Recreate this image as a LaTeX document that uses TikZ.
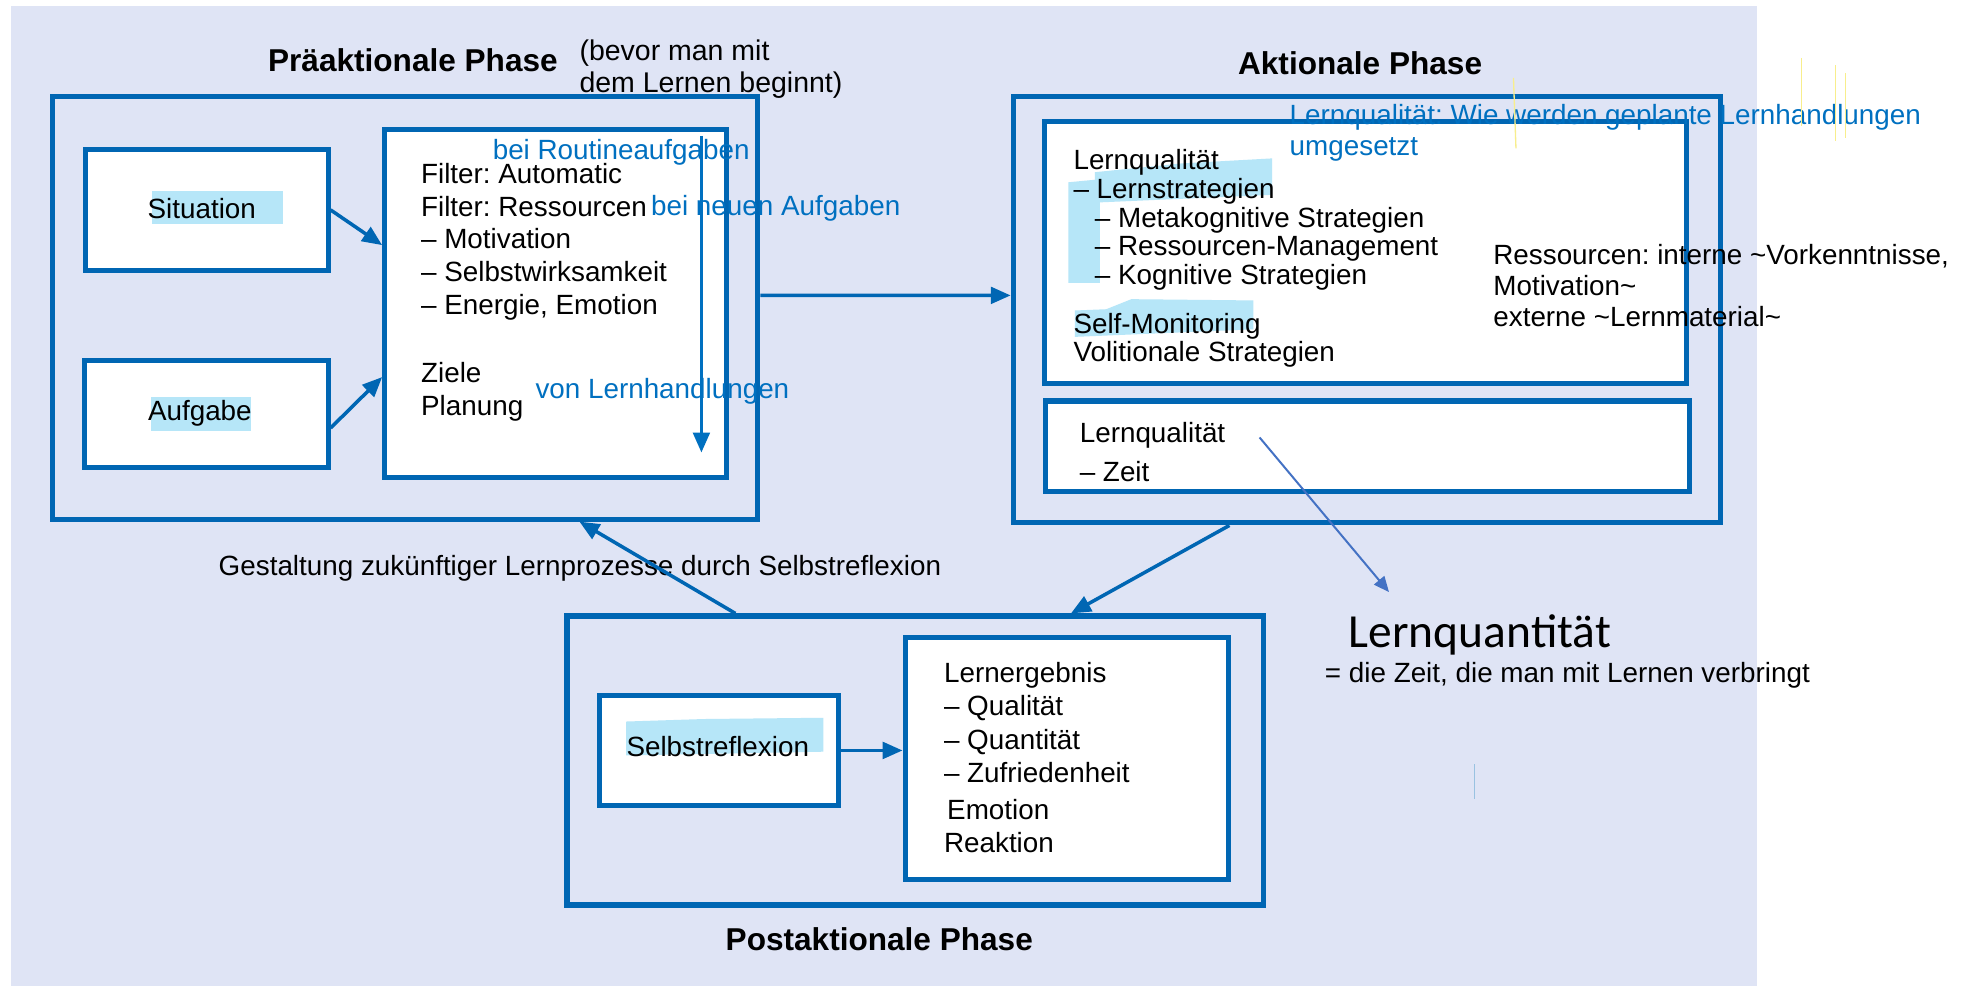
\documentclass[tikz,border=0pt]{standalone}
\usepackage{fontspec}
\setmainfont{Liberation Sans}
\newfontfamily\quantfont{Carlito}
\usetikzlibrary{arrows.meta,positioning}
\definecolor{phaseblue}{RGB}{0,102,179}
\definecolor{noteblue}{RGB}{0,112,192}
\definecolor{thinblue}{RGB}{68,114,196}
\definecolor{panel}{RGB}{223,228,245}
\definecolor{marker}{RGB}{182,230,248}
\definecolor{scribble}{RGB}{248,238,140}
\frenchspacing
\begin{document}
\begin{tikzpicture}[x=0.02cm, y=-0.02cm, line width=2.3pt, >={Triangle[length=9pt,width=7.5pt]},
  phasebox/.style={draw=phaseblue, fill=panel, inner sep=0pt},
  innerbox/.style={draw=phaseblue, fill=white, inner sep=0pt},
  phasetitle/.style={font=\bfseries\fontsize{14.3}{17}\selectfont, inner sep=0pt},
  body/.style={font=\fontsize{12.6}{14.8}\selectfont, align=left, inner sep=0pt, anchor=north west},
  note/.style={body, text=noteblue},
  flow/.style={->, draw=phaseblue, line width=1.6pt},
  hl/.style={fill=marker, draw=none}]
  \useasboundingbox (0,0) rectangle (1568,784);
  \fill[panel] (9,5) rectangle (1398,784);

  % boxes
  \node[phasebox, minimum width=11.22cm, minimum height=6.72cm] (prae) at (322.5,245) {};
  \node[innerbox, minimum width=3.86cm, minimum height=1.92cm] (situation) at (164.5,167) {};
  \node[innerbox, minimum width=3.88cm, minimum height=1.70cm] (aufgabe) at (164,329.5) {};
  \node[innerbox, minimum width=5.44cm, minimum height=5.54cm] (filter) at (442,241.5) {};
  \node[phasebox, minimum width=11.26cm, minimum height=6.78cm] (akt) at (1087.5,246.5) {};
  \node[innerbox, minimum width=10.22cm, minimum height=4.16cm] (lernq) at (1086.5,201) {};
  \node[innerbox, minimum width=10.24cm, minimum height=1.44cm] (zeitbox) at (1088,355) {};
  \node[phasebox, minimum width=11.08cm, minimum height=4.60cm] (post) at (728,605) {};
  \node[innerbox, minimum width=3.80cm, minimum height=1.76cm] (reflexion) at (572,597) {};
  \node[innerbox, minimum width=5.14cm, minimum height=3.86cm] (ergebnis) at (848.5,603.5) {};

  % marker
  \fill[hl] (121,152) rectangle (225,178);
  \fill[hl] (120,316) rectangle (200,343);
  \fill[hl] (498,574) -- (560,572) -- (655,571) -- (655,598) -- (498,601) -- cycle;
  \fill[hl] (871,137) -- (940,130) -- (1012,126) -- (1012,155) -- (875,161) -- (875,225) -- (850,225) -- (850,145) -- (871,143) -- cycle;
  \fill[hl] (855,247) -- (880,246) -- (900,238) -- (997,239) -- (997,262) -- (855,268) -- cycle;

  % titles
  \node[phasetitle] (praetitle) at (328.5,48) {Präaktionale Phase};
  \node[body, font=\fontsize{12.9}{14.2}\selectfont] (praenote) at (459,30) {(bevor man mit\\dem Lernen beginnt)};
  \node[phasetitle] (akttitle) at (1082,50) {Aktionale Phase};
  \node[phasetitle] (posttitle) at (699.5,747) {Postaktionale Phase};

  % box texts
  \node[body, anchor=center] (situationtxt) at (160.5,166) {Situation};
  \node[body, anchor=center] (aufgabetxt) at (159,329) {Aufgabe};
  \node[body] (filtertxt) at (333,128) {Filter: Automatic\\Filter: Ressourcen\\– Motivation\\– Selbstwirksamkeit\\– Energie, Emotion\\[16pt]Ziele\\Planung};
  \node[body, font=\fontsize{12.6}{13}\selectfont] (lernqtxt) at (852,117) {Lernqualität\\– Lernstrategien\\\hspace*{0.34cm}– Metakognitive Strategien\\\hspace*{0.34cm}– Ressourcen-Management\\\hspace*{0.34cm}– Kognitive Strategien\\[9pt]Self-Monitoring\\Volitionale Strategien};
  \node[body, font=\fontsize{12.6}{17.6}\selectfont] (zeittxt) at (857,334) {Lernqualität\\– Zeit};
  \node[body, anchor=center] (reflexiontxt) at (571,594) {Selbstreflexion};
  \node[body, font=\fontsize{12.6}{15.1}\selectfont] (ergebnistxt) at (749,525) {Lernergebnis\\– Qualität\\– Quantität\\– Zufriedenheit\\[1.5pt]\hspace*{0.05cm}Emotion\\Reaktion};

  % notes
  \node[note] (routine) at (390,109) {bei Routineaufgaben};
  \node[note] (neu) at (516,153) {bei neuen Aufgaben};
  \node[note] (handlung) at (424,299) {von Lernhandlungen};
  \node[note, font=\fontsize{12.6}{14.2}\selectfont] (lernqnote) at (1024,81) {Lernqualität: Wie werden geplante Lernhandlungen\\umgesetzt};
  \node[body, font=\fontsize{12.6}{14.2}\selectfont] (ressourcen) at (1186,192) {Ressourcen: interne \textasciitilde Vorkenntnisse,\\Motivation\textasciitilde\\externe \textasciitilde Lernmaterial\textasciitilde};
  \node[body] (gestaltung) at (172,440) {Gestaltung zukünftiger Lernprozesse durch Selbstreflexion};
  \node[inner sep=0pt, anchor=base west, font=\quantfont\fontsize{21.5}{24}\selectfont] (lernquant) at (1071,515) {Lernquantität};
  \node[body] (zeitdef) at (1052,525) {= die Zeit, die man mit Lernen verbringt};

  % connectors
  \draw[flow] (situation.east) -- ([yshift=0.93cm]filter.west);
  \draw[flow] ([yshift=-0.22cm]aufgabe.east) -- ([yshift=-1.17cm]filter.west);
  \draw[flow, draw=noteblue, line width=1.5pt] ([xshift=-0.44cm, yshift=-0.14cm]filter.north east) -- ([xshift=-0.44cm, yshift=0.44cm]filter.south east);
  \draw[flow] ([yshift=0.2cm]prae.east) -- ([yshift=0.23cm]akt.west);
  \draw[flow] ([xshift=-2.19cm]akt.south) -- ([xshift=2.48cm]post.north);
  \draw[flow] ([xshift=-2.86cm]post.north) -- ([xshift=2.77cm]prae.south);
  \draw[flow] (reflexion.east) -- (reflexion.east -| ergebnis.west);
  \draw[->, draw=thinblue, line width=0.9pt, >={Triangle[length=7pt,width=6pt]}] ([xshift=-1.72cm, yshift=0.14cm]zeitbox.center) -- ([shift={(0.68cm,0.88cm)}]lernquant.base west);

  % scribbles
  \draw[scribble, line width=0.6pt] (1204,62) -- (1206,118);
  \draw[scribble, line width=0.6pt] (1433,46) -- (1433,100);
  \draw[scribble, line width=0.6pt] (1460,52) -- (1460,112);
  \draw[scribble, line width=0.6pt] (1468,58) -- (1468,110);
  \draw[phaseblue!40, line width=0.5pt] (1173,608) -- (1173,636);
\end{tikzpicture}
\end{document}
